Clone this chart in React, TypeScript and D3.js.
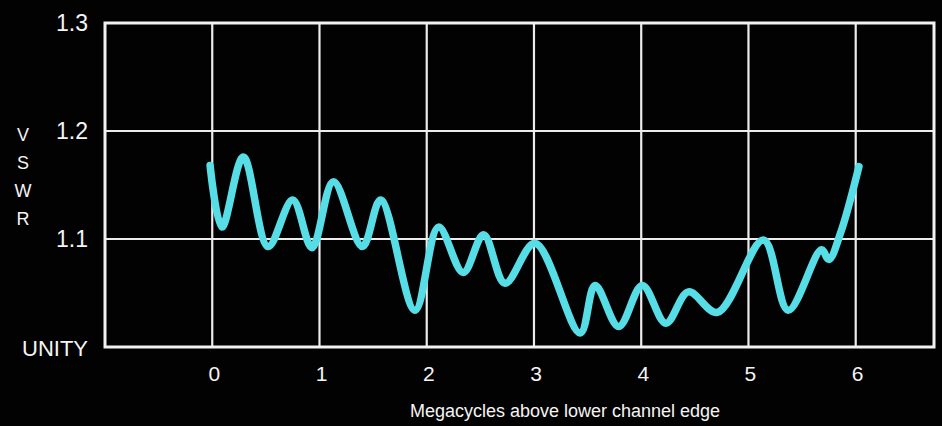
import React, { useRef, useEffect } from "react";
import * as d3 from "d3";

// megacycles above lower channel edge
const freqs = [
  -0.02, 0.09, 0.29, 0.52, 0.75, 0.93, 1.13, 1.4, 1.57, 1.89, 2.11, 2.34, 2.53, 2.73, 3.01, 3.43,
  3.57, 3.79, 4.01, 4.23, 4.44, 4.71, 5.14, 5.37, 5.68, 5.75, 5.86, 6.03,
];
const vswr = [
  1.168, 1.111, 1.176, 1.093, 1.136, 1.092, 1.153, 1.093, 1.136, 1.034, 1.111, 1.069, 1.104, 1.059,
  1.096, 1.013, 1.057, 1.019, 1.057, 1.022, 1.051, 1.032, 1.099, 1.034, 1.09, 1.081, 1.106, 1.167,
];
const xTicks = [0, 1, 2, 3, 4, 5, 6];
const yTicks = [1.3, 1.2, 1.1];
const yLabels = ["1.3", "1.2", "1.1"];
const axisLetters = ["V", "S", "W", "R"];

const App = () => {
  const ref = useRef<SVGSVGElement>(null);

  useEffect(() => {
    const svg = d3.select(ref.current);
    svg.selectAll("*").remove();

    const width = 942;
    const height = 426;
    const font = "'Liberation Sans', Arial, sans-serif";

    svg.append("rect").attr("width", width).attr("height", height).attr("fill", "#020202");

    const x = d3.scaleLinear().domain([-1, 6.73]).range([105, 934]);
    const y = d3.scaleLinear().domain([1.0, 1.3]).range([347, 23]);

    const grid = svg.append("g").attr("stroke", "#ececec");

    // vertical grid lines
    grid
      .selectAll("line.v")
      .data(xTicks)
      .join("line")
      .attr("class", "v")
      .attr("x1", (d) => x(d))
      .attr("x2", (d) => x(d))
      .attr("y1", y(1.3))
      .attr("y2", y(1.0))
      .attr("stroke-width", 2.2);

    // horizontal grid lines
    grid
      .selectAll("line.h")
      .data([1.2, 1.1])
      .join("line")
      .attr("class", "h")
      .attr("x1", x(-1))
      .attr("x2", x(6.73))
      .attr("y1", (d) => y(d))
      .attr("y2", (d) => y(d))
      .attr("stroke-width", 2);

    // frame
    svg
      .append("rect")
      .attr("x", x(-1))
      .attr("y", y(1.3))
      .attr("width", x(6.73) - x(-1))
      .attr("height", y(1.0) - y(1.3))
      .attr("fill", "none")
      .attr("stroke", "#f2f2f2")
      .attr("stroke-width", 3);

    const data = freqs.map((f, i) => ({ f, v: vswr[i] }));
    const line = d3
      .line<{ f: number; v: number }>()
      .x((d) => x(d.f))
      .y((d) => y(d.v))
      .curve(d3.curveCatmullRom.alpha(0.5));

    svg
      .append("path")
      .datum(data)
      .attr("d", line)
      .attr("fill", "none")
      .attr("stroke", "#56dde6")
      .attr("stroke-width", 7.5)
      .attr("stroke-linecap", "round")
      .attr("stroke-linejoin", "round");

    // y labels
    svg
      .append("g")
      .selectAll("text")
      .data(yTicks)
      .join("text")
      .attr("x", 88)
      .attr("y", (d) => y(d) + 8)
      .attr("text-anchor", "end")
      .attr("font-family", font)
      .attr("font-size", 23)
      .attr("fill", "#f4f4f4")
      .text((d, i) => yLabels[i]);

    svg
      .append("text")
      .attr("x", 88)
      .attr("y", y(1.0) + 9)
      .attr("text-anchor", "end")
      .attr("font-family", font)
      .attr("font-size", 22)
      .attr("fill", "#f4f4f4")
      .text("UNITY");

    svg
      .append("g")
      .selectAll("text")
      .data(axisLetters)
      .join("text")
      .attr("x", 23)
      .attr("y", (d, i) => 141 + i * 28)
      .attr("text-anchor", "middle")
      .attr("font-family", font)
      .attr("font-size", 18)
      .attr("fill", "#f4f4f4")
      .text((d) => d);

    // x labels
    svg
      .append("g")
      .selectAll("text")
      .data(xTicks)
      .join("text")
      .attr("x", (d) => x(d) + 2)
      .attr("y", 381)
      .attr("text-anchor", "middle")
      .attr("font-family", font)
      .attr("font-size", 21)
      .attr("fill", "#f4f4f4")
      .text((d) => String(d));

    svg
      .append("text")
      .attr("x", 565)
      .attr("y", 417)
      .attr("text-anchor", "middle")
      .attr("font-family", font)
      .attr("font-size", 18)
      .attr("fill", "#f4f4f4")
      .text("Megacycles above lower channel edge");
  }, []);

  return (
    <svg
      ref={ref}
      width={942}
      height={426}
      style={{ position: "absolute", left: 0, top: 0, display: "block" }}
    ></svg>
  );
};

export default App;
